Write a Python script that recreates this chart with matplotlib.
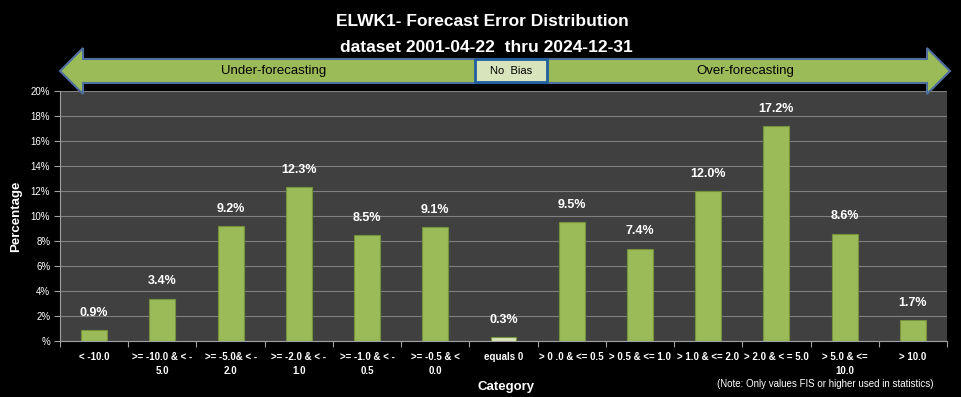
import matplotlib
matplotlib.use("Agg")
import matplotlib.pyplot as plt
from matplotlib.patches import Polygon, Rectangle

plt.rcParams['font.family'] = ['Liberation Sans', 'DejaVu Sans']

categories = ["< -10.0", ">= -10.0 & < -\n5.0", ">= -5.0& < -\n2.0", ">= -2.0 & < -\n1.0",
              ">= -1.0 & < -\n0.5", ">= -0.5 & <\n0.0", "equals 0", "> 0 .0 & <= 0.5",
              "> 0.5 & <= 1.0", "> 1.0 & <= 2.0", "> 2.0 & < = 5.0", "> 5.0 & <=\n10.0", "> 10.0"]
values = [0.9, 3.4, 9.2, 12.3, 8.5, 9.1, 0.3, 9.5, 7.4, 12.0, 17.2, 8.6, 1.7]
bar_colors = ["#9bbb59"] * 6 + ["#d8e4bc"] + ["#9bbb59"] * 6
yticks = [0, 2, 4, 6, 8, 10, 12, 14, 16, 18, 20]
ytick_labels = ["%"] + [f"{v}%" for v in yticks[1:]]

W, H = 961, 397
fig = plt.figure(figsize=(W / 100, H / 100), dpi=100, facecolor="black")
L, R, T, B = 60, 947, 91, 341
ax = fig.add_axes([L / W, 1 - B / H, (R - L) / W, (B - T) / H])
ax.set_facecolor("#404040")

x = list(range(len(categories)))
ax.bar(x, values, width=0.38, color=bar_colors, edgecolor="#76923c", linewidth=0.8, zorder=3)
for xi, v in zip(x, values):
    ax.annotate(f"{v:.1f}%", (xi, v), xytext=(0, 8), textcoords="offset points",
                ha="center", va="bottom", color="white",
                fontsize=9, fontweight="bold", zorder=4)

ax.set_xlim(-0.5, len(categories) - 0.5)
ax.set_ylim(0, 20)
ax.set_yticks(yticks)
ax.set_yticklabels(ytick_labels, color="white", fontsize=7)
ax.set_xticks([i - 0.5 for i in range(len(categories) + 1)], minor=False)
ax.set_xticklabels([])
ax.set_xticks(x, minor=True)
ax.set_xticklabels(categories, minor=True, color="white", fontsize=7, fontweight="bold",
                   linespacing=1.45)
ax.tick_params(axis="x", which="minor", length=0, pad=8)
ax.tick_params(axis="x", which="major", length=4, color="#a0a0a0")
ax.tick_params(axis="y", length=4, color="#a0a0a0", pad=3)
ax.grid(axis="y", color="#808080", linewidth=0.8, zorder=0)
for s in ["top", "right"]:
    ax.spines[s].set_visible(False)
ax.spines["left"].set_color("#a0a0a0")
ax.spines["bottom"].set_color("#a0a0a0")

ax.set_ylabel("Percentage", color="white", fontsize=9.5, fontweight="bold", labelpad=6)

fig.text(506 / W, 1 - 387 / H, "Category", color="white", fontsize=9.5, fontweight="bold",
         ha="center", va="center")
fig.text(825 / W, 1 - 384 / H, "(Note: Only values FIS or higher used in statistics)",
         color="white", fontsize=7, ha="center", va="center")

fig.text(482 / W, 1 - 22 / H, "ELWK1- Forecast Error Distribution", color="white",
         fontsize=12.5, fontweight="bold", ha="center", va="center")
fig.text(486 / W, 1 - 47 / H, "dataset 2001-04-22  thru 2024-12-31", color="white",
         fontsize=12.5, fontweight="bold", ha="center", va="center")

# big double arrow in pixel coordinates
def P(px, py):
    return (px / W, 1 - py / H)

arrow_pts = [P(60, 71), P(83, 48), P(83, 59), P(927, 59), P(927, 48), P(950, 71),
             P(927, 94), P(927, 83), P(83, 83), P(83, 94)]
fig.patches.append(Polygon(arrow_pts, closed=True, transform=fig.transFigure,
                           facecolor="#9bbb59", edgecolor="#4f6f9f", linewidth=1.5, zorder=5))
bx0, by0, bx1, by1 = 475, 59, 547, 82
fig.patches.append(Rectangle(P(bx0, by1), (bx1 - bx0) / W, (by1 - by0) / H,
                             transform=fig.transFigure, facecolor="#d8e4bc",
                             edgecolor="#1f5fa0", linewidth=2, zorder=6))
fig.text(511 / W, 1 - 71 / H, "No  Bias", color="black", fontsize=8, ha="center",
         va="center", zorder=7)
fig.text(274 / W, 1 - 71 / H, "Under-forecasting", color="black", fontsize=9.5,
         ha="center", va="center", zorder=7)
fig.text(745 / W, 1 - 71 / H, "Over-forecasting", color="black", fontsize=9.5,
         ha="center", va="center", zorder=7)

fig.savefig("out.png", dpi=100, facecolor="black")
